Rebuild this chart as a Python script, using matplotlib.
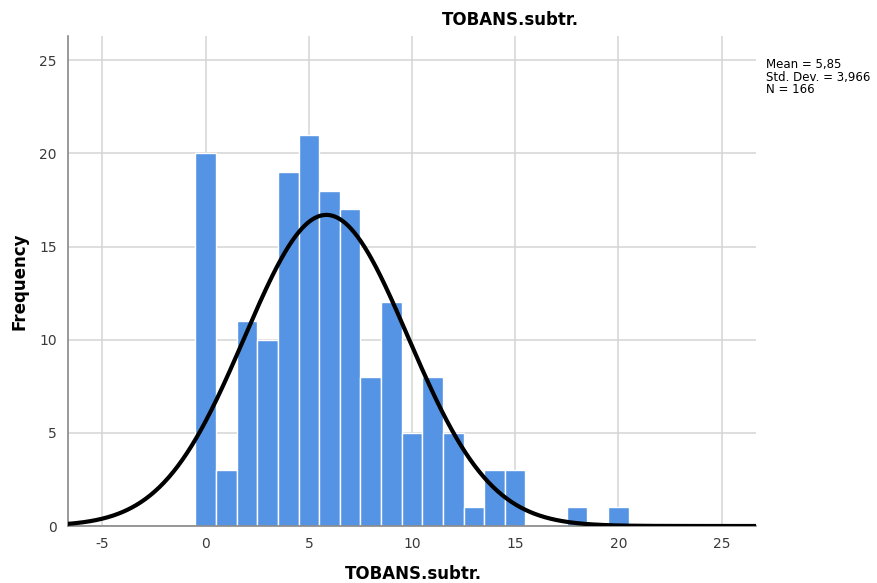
import numpy as np
import matplotlib
matplotlib.use("Agg")
import matplotlib.pyplot as plt

plt.rcParams["axes.unicode_minus"] = False

# Histogram of TOBANS.subtr. (bins centred on integer values)
values = [0, 1, 2, 3, 4, 5, 6, 7, 8, 9, 10, 11, 12, 13, 14, 15, 18, 20]
counts = [20, 3, 11, 10, 19, 21, 18, 17, 8, 12, 5, 8, 5, 1, 3, 3, 1, 1]
mean = 5.85
std = 3.966
n = 166
x_ticks = [-5, 0, 5, 10, 15, 20, 25]
y_ticks = [0, 5, 10, 15, 20, 25]

fig = plt.figure(figsize=(8.78, 5.83), dpi=100)
ax = fig.add_axes([68 / 878, 57 / 583, 688 / 878, 490 / 583])

ax.bar(values, counts, width=1.0, color="#5594E4", edgecolor="white",
       linewidth=1.0, zorder=2)

# Normal curve scaled to counts per unit-width bin
xs = np.linspace(-6.7, 26.7, 600)
pdf = n * 1.0 / (std * np.sqrt(2 * np.pi)) * np.exp(-0.5 * ((xs - mean) / std) ** 2)
ax.plot(xs, pdf, color="black", linewidth=3, zorder=3)

ax.set_xlim(-6.67, 26.67)
ax.set_ylim(0, 26.3)
ax.set_xticks(x_ticks)
ax.set_yticks(y_ticks)
ax.grid(True, color="#d4d4d4", linewidth=1.1, zorder=0)
ax.set_axisbelow(True)
ax.tick_params(length=0, labelsize=10, colors="#3a3a3a", pad=8)
for side in ("top", "right"):
    ax.spines[side].set_visible(False)
for side in ("left", "bottom"):
    ax.spines[side].set_color("#888888")
    ax.spines[side].set_linewidth(1.2)

fig.text(510 / 878, 1 - 20 / 583, "TOBANS.subtr.", ha="center", va="center",
         fontsize=12, fontweight="bold")
fig.text(413 / 878, 1 - 574 / 583, "TOBANS.subtr.", ha="center", va="center",
         fontsize=12, fontweight="bold")
fig.text(20 / 878, 1 - 281 / 583, "Frequency", ha="center", va="center",
         rotation=90, fontsize=12, fontweight="bold")
fig.text(766 / 878, 1 - 58 / 583,
         f"Mean = 5,85\nStd. Dev. = 3,966\nN = {n}",
         ha="left", va="top", fontsize=8.5, linespacing=0.95)

fig.savefig("out.png", dpi=100)
